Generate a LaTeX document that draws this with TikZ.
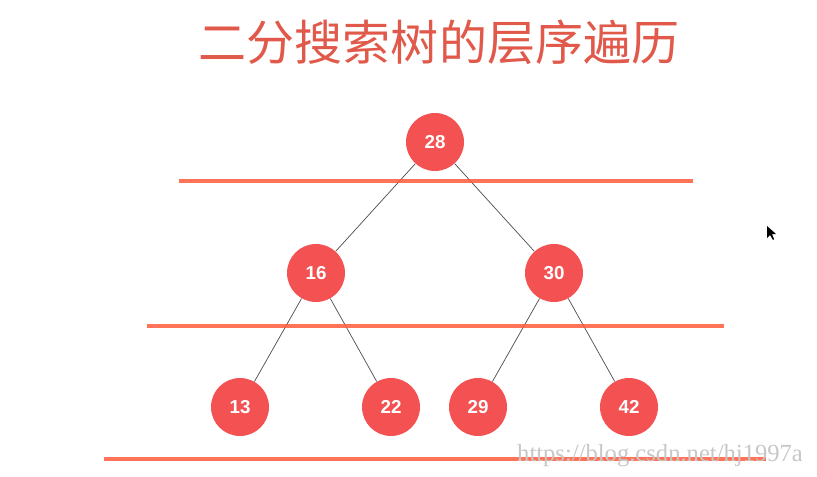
\documentclass[tikz,border=0pt]{standalone}
\usepackage{fontspec}
\setmainfont{Liberation Sans}
\newfontfamily\cjk{Noto Sans CJK SC}
\newfontfamily\serifwm{Liberation Serif}
\definecolor{noeud}{HTML}{F45252}
\definecolor{titre}{HTML}{E0594A}
\definecolor{niveau}{HTML}{FF5A3C}
\begin{document}
\begin{tikzpicture}[x=0.03cm, y=-0.03cm,
    main node/.style={circle, fill=noeud, inner sep=0pt, minimum size=1.74cm, font=\fontsize{16}{16}\selectfont\bfseries, text=white},
    arete/.style={draw=black!70, line width=0.6pt},
    niveau line/.style={draw=niveau, line width=3pt, opacity=0.85}]

    \useasboundingbox (0,0) rectangle (817,476);

    % titre
    \node[text=titre, font=\cjk\fontsize{41}{41}\selectfont] (titre) at (439,42) {二分搜索树的层序遍历};

    % arbre
    \node[main node] (n28) at (435,142) {28};
    \node[main node] (n16) at (316,273) {16};
    \node[main node] (n30) at (554,273) {30};
    \node[main node] (n13) at (240,407) {13};
    \node[main node] (n22) at (391,407) {22};
    \node[main node] (n29) at (478,407) {29};
    \node[main node] (n42) at (629,407) {42};

    \draw[arete] (n28) -- (n16);
    \draw[arete] (n28) -- (n30);
    \draw[arete] (n16) -- (n13);
    \draw[arete] (n16) -- (n22);
    \draw[arete] (n30) -- (n29);
    \draw[arete] (n30) -- (n42);

    % lignes des niveaux
    \coordinate (a1) at (179,181);
    \coordinate (b1) at (693,181);
    \coordinate (a2) at (147,326);
    \coordinate (b2) at (724,326);
    \coordinate (a3) at (104,459);
    \coordinate (b3) at (766,459);
    \draw[niveau line] (a1) -- (b1);
    \draw[niveau line] (a2) -- (b2);
    \draw[niveau line] (a3) -- (b3);

    % filigrane et curseur
    \node[text=black!22, font=\serifwm\fontsize{21}{21}\selectfont, anchor=east] (lien) at (807,456) {https://blog.csdn.net/hj1997a};
    \fill[black] (767,226) -- (767,238) -- (770,235) -- (773,240) -- (774,239) -- (772,234) -- (776,234) -- cycle;
\end{tikzpicture}
\end{document}
